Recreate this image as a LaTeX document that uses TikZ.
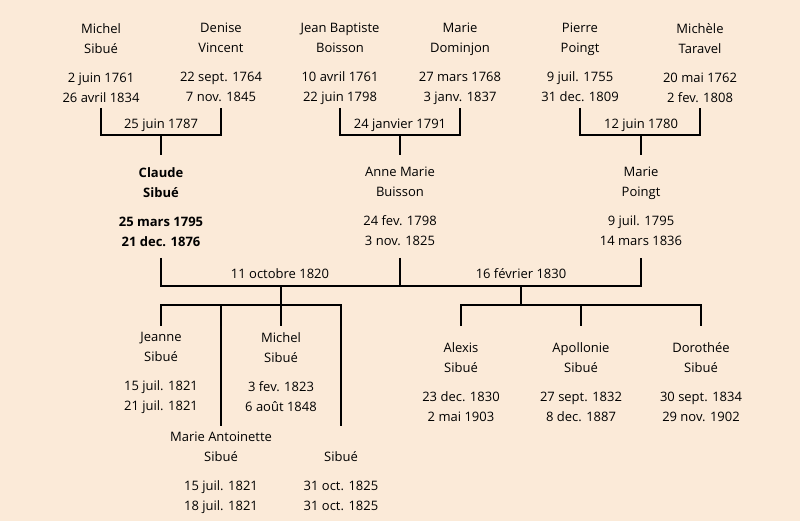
\documentclass[tikz,border=0pt]{standalone}
\usepackage{fontspec}
\setmainfont{Open Sans}
\definecolor{paper}{HTML}{FBEAD8}
\begin{document}
\begin{tikzpicture}[x=1pt,y=-1pt,
    person/.style={align=center,anchor=north,inner sep=0pt,font=\fontsize{13}{20}\selectfont},
    wedding/.style={inner sep=0pt,font=\fontsize{13}{15}\selectfont},
    link/.style={line width=2pt}]
    \fill[paper] (0,0) rectangle (800,521);
    % grands-parents
    \node[person] (michel) at (101,23) {Michel\\Sibué\\[9pt]2 juin 1761\\26 avril 1834};
    \node[person] (denise) at (221,23) {Denise\\Vincent\\[9pt]22 sept. 1764\\7 nov. 1845};
    \node[person] (jeanbaptiste) at (340,23) {Jean Baptiste\\Boisson\\[9pt]10 avril 1761\\22 juin 1798};
    \node[person] (mariedominjon) at (460,23) {Marie\\Dominjon\\[9pt]27 mars 1768\\3 janv. 1837};
    \node[person] (pierre) at (580,23) {Pierre\\Poingt\\[9pt]9 juil. 1755\\31 dec. 1809};
    \node[person] (michele) at (700,23) {Michèle\\Taravel\\[9pt]20 mai 1762\\2 fev. 1808};
    \coordinate (w1) at (161,135);
    \coordinate (w2) at (400,135);
    \coordinate (w3) at (641,135);
    \draw[link] (michel |- 0,108) |- (w1) -| (denise |- 0,108);
    \draw[link] (jeanbaptiste |- 0,108) |- (w2) -| (mariedominjon |- 0,108);
    \draw[link] (pierre |- 0,108) |- (w3) -| (michele |- 0,108);
    \node[wedding] (d1) at (161,125) {25 juin 1787};
    \node[wedding] (d2) at (400,125) {24 janvier 1791};
    \node[wedding] (d3) at (641,125) {12 juin 1780};
    % parents
    \node[person,font=\fontsize{13}{20}\selectfont\bfseries] (claude) at (161,167) {Claude\\Sibué\\[9pt]25 mars 1795\\21 dec. 1876};
    \node[person] (annemarie) at (400,167) {Anne Marie\\Buisson\\[9pt]24 fev. 1798\\3 nov. 1825};
    \node[person] (mariepoingt) at (641,167) {Marie\\Poingt\\[9pt]9 juil. 1795\\14 mars 1836};
    \draw[link] (w1) -- (w1 |- 0,155);
    \draw[link] (w2) -- (w2 |- 0,155);
    \draw[link] (w3) -- (w3 |- 0,155);
    \coordinate (w4) at (281,286);
    \coordinate (w5) at (521,286);
    \draw[link] (claude |- 0,258) |- (w4) -- (w5) -| (mariepoingt |- 0,258);
    \draw[link] (annemarie |- 0,258) -- (annemarie |- w4);
    \node[wedding] (d4) at (280,274) {11 octobre 1820};
    \node[wedding] (d5) at (521,274) {16 février 1830};
    % enfants
    \node[person] (jeanne) at (161,332) {Jeanne\\Sibué\\[9pt]15 juil. 1821\\21 juil. 1821};
    \node[person] (michelfils) at (281,332) {Michel\\Sibué\\[9pt]3 fev. 1823\\6 août 1848};
    \node[person] (marieantoinette) at (221,432) {Marie Antoinette\\Sibué\\[9pt]15 juil. 1821\\18 juil. 1821};
    \node[person] (sibue) at (341,432) {\vphantom{Marie}\\Sibué\\[9pt]31 oct. 1825\\31 oct. 1825};
    \node[person] (alexis) at (461,342) {Alexis\\Sibué\\[9pt]23 dec. 1830\\2 mai 1903};
    \node[person] (apollonie) at (581,342) {Apollonie\\Sibué\\[9pt]27 sept. 1832\\8 dec. 1887};
    \node[person] (dorothee) at (701,342) {Dorothée\\Sibué\\[9pt]30 sept. 1834\\29 nov. 1902};
    \coordinate (b1) at (281,305);
    \coordinate (b2) at (521,305);
    \draw[link] (w4) -- (b1);
    \draw[link] (w5) -- (b2);
    \draw[link] (jeanne |- 0,326) |- (b1) -| (sibue |- 0,426);
    \draw[link] (marieantoinette |- b1) -- (marieantoinette |- 0,426);
    \draw[link] (b1) -- (michelfils |- 0,326);
    \draw[link] (alexis |- 0,326) |- (b2) -| (dorothee |- 0,326);
    \draw[link] (apollonie |- b2) -- (apollonie |- 0,326);
\end{tikzpicture}
\end{document}
